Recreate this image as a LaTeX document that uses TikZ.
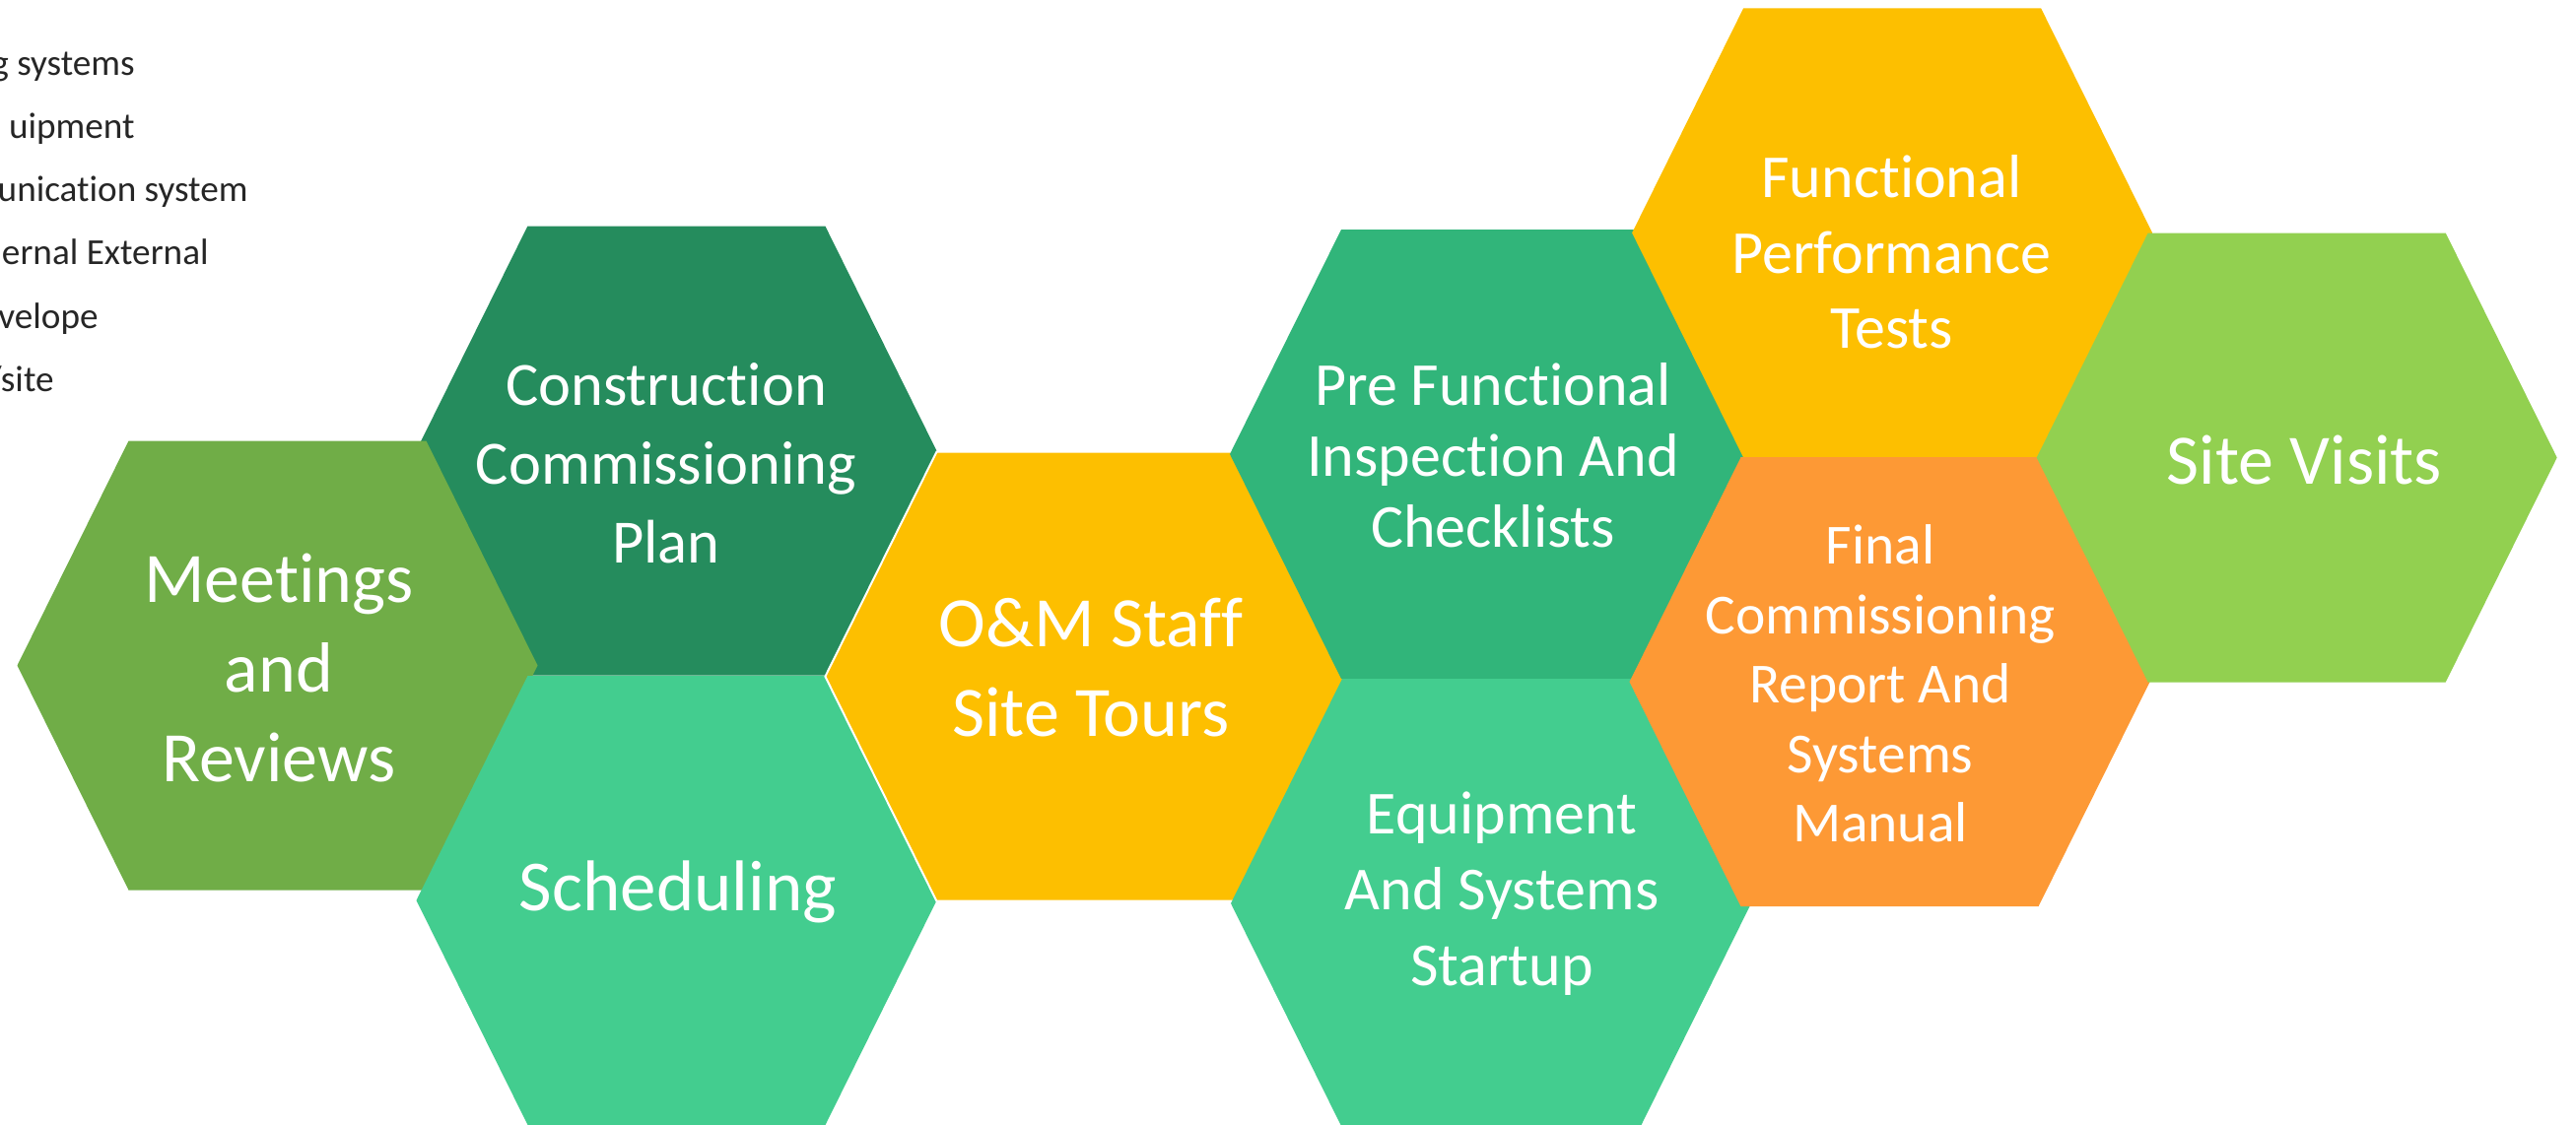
\documentclass[tikz,border=0pt]{standalone}
\usepackage{fontspec}
\setmainfont{Carlito}[RawFeature={-liga}]
\definecolor{cMeet}{HTML}{70AD47}
\definecolor{cCons}{HTML}{258C5D}
\definecolor{cSched}{HTML}{43CD8F}
\definecolor{cGold}{HTML}{FDBF00}
\definecolor{cPre}{HTML}{31B57A}
\definecolor{cFinal}{HTML}{FD9935}
\definecolor{cSite}{HTML}{92D050}
\definecolor{cList}{HTML}{262626}
\newcommand{\hexcell}[4][]{%
  \path[fill=#4,#1] (#2,#3) ++(-264,0) -- ++(113,-228) -- ++(302,0) -- ++(113,228)
    -- ++(-113,228) -- ++(-302,0) -- cycle;}
\begin{document}
\begin{tikzpicture}[x=0.5pt,y=-0.5pt,
  hexlabel/.style={text=white, align=center, inner sep=0pt},
  listtext/.style={text=cList, anchor=base east, inner sep=0pt,
    font=\fontsize{18.6pt}{22pt}\selectfont}]
\useasboundingbox[fill=white] (0,0) rectangle (2614,1141);

% list text cut at the left edge
\node[listtext] (l1) at (137,76) {g systems};
\node[listtext] (l2) at (137,140.3) {uipment};
\node[listtext] (l3) at (252,204.6) {unication system};
\node[listtext] (l4) at (212,268.9) {ernal External};
\node[listtext] (l5) at (100,333.2) {velope};
\node[listtext] (l6) at (55,397.5) {/site};

% hexagons
\hexcell{686.4}{457.5}{cCons}
\hexcell{281.5}{675.5}{cMeet}
\hexcell{686.5}{914}{cSched}
\hexcell[draw=white, line width=1pt]{1101.4}{686.7}{cGold}
\hexcell{1512}{461}{cPre}
\hexcell{1513}{917}{cSched}
\hexcell{1920.1}{236.4}{cGold}
\hexcell{1917.5}{692.2}{cFinal}
\hexcell{2330.7}{464.5}{cSite}

% labels
\node[hexlabel, font=\fontsize{36pt}{45.5pt}\selectfont] (meet) at (283,678) {Meetings\\and\\Reviews};
\node[hexlabel, font=\fontsize{31.25pt}{40pt}\selectfont] (cons) at (676,470) {Construction\\Commissioning\\Plan};
\node[hexlabel, font=\fontsize{36.5pt}{45pt}\selectfont] (sched) at (688,905) {Scheduling};
\node[hexlabel, font=\fontsize{36pt}{45.5pt}\selectfont] (om) at (1107,678) {O\&M Staff\\Site Tours};
\node[hexlabel, font=\fontsize{31pt}{36pt}\selectfont] (pre) at (1515,462) {Pre Functional\\Inspection And\\Checklists};
\node[hexlabel, font=\fontsize{31pt}{38.5pt}\selectfont] (equip) at (1524,907) {Equipment\\And Systems\\Startup};
\node[hexlabel, font=\fontsize{31pt}{38.25pt}\selectfont] (func) at (1919.5,256) {Functional\\Performance\\Tests};
\node[hexlabel, font=\fontsize{28.75pt}{35.25pt}\selectfont] (final) at (1908,694) {Final\\Commissioning\\Report And\\Systems\\Manual};
\node[hexlabel, font=\fontsize{36pt}{45pt}\selectfont] (site) at (2338.5,467) {Site Visits};
\end{tikzpicture}
\end{document}
